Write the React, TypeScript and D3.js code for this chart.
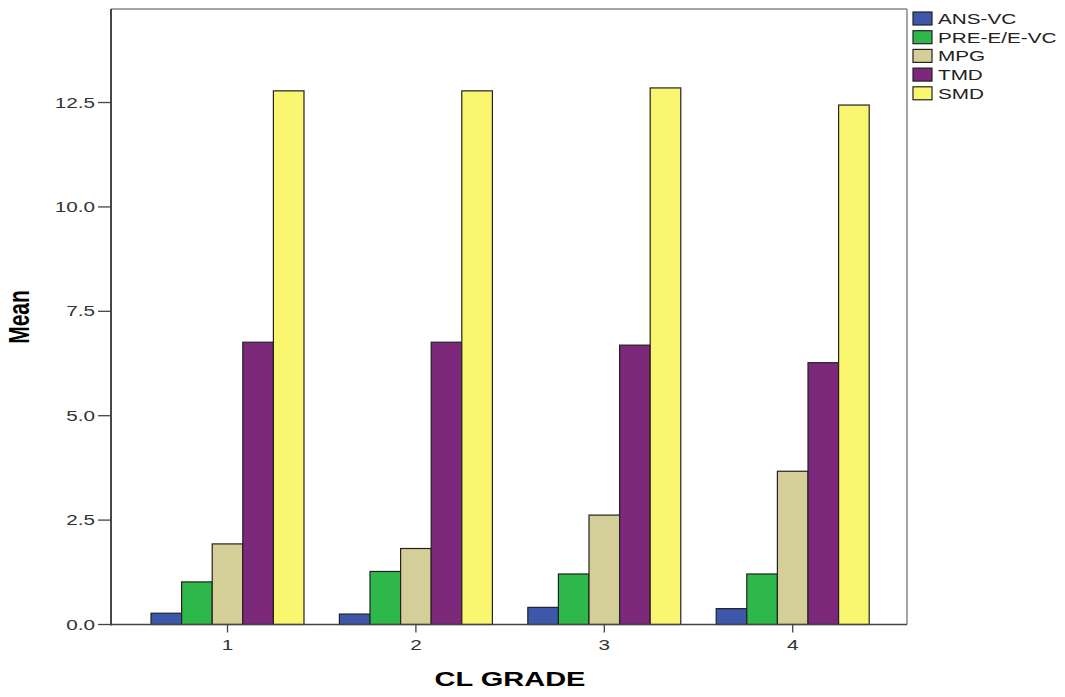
import React from 'react';
import * as d3 from 'd3';

const grades = ['1', '2', '3', '4'];
const seriesNames = ['ANS-VC', 'PRE-E/E-VC', 'MPG', 'TMD', 'SMD'];
const seriesColors = ['#3d58aa', '#2fb84a', '#d4cf98', '#7c287b', '#fbf670'];
const ansVc = [0.27, 0.25, 0.41, 0.38];
const preEVc = [1.02, 1.27, 1.21, 1.21];
const mpg = [1.93, 1.82, 2.62, 3.67];
const tmd = [6.76, 6.76, 6.69, 6.27];
const smd = [12.78, 12.78, 12.85, 12.44];
const yTicks = [0, 2.5, 5, 7.5, 10, 12.5];

const values = [ansVc, preEVc, mpg, tmd, smd];

const W = 1065;
const H = 697;
const frame = { left: 111, right: 907, top: 9, bottom: 624.5 };
const SX = 1.38; // the source image is stretched horizontally

const App = () => {
    const y = d3.scaleLinear().domain([0, 14.74]).range([frame.bottom, frame.top]);
    const x0 = d3.scaleBand<string>()
        .domain(grades)
        .range([133.3, 886.9])
        .paddingInner(0.188)
        .paddingOuter(0.094);
    const x1 = d3.scaleBand<number>()
        .domain(d3.range(seriesNames.length))
        .range([0, x0.bandwidth()]);

    const fmt = d3.format('.1f');

    return (
        <svg width={W} height={H} style={{ position: 'absolute', left: 0, top: 0, background: '#fff' }}
            fontFamily="'Liberation Sans', Arial, sans-serif">
            {/* bars */}
            {grades.map((g, gi) => (
                <g key={g} transform={`translate(${x0(g)},0)`}>
                    {values.map((s, si) => (
                        <rect key={si}
                            x={x1(si)}
                            y={y(s[gi])}
                            width={x1.bandwidth()}
                            height={y(0) - y(s[gi])}
                            fill={seriesColors[si]}
                            stroke="#222"
                            strokeWidth={1.2} />
                    ))}
                </g>
            ))}

            {/* frame */}
            <line x1={frame.left} x2={frame.right} y1={frame.top} y2={frame.top} stroke="#888" strokeWidth={1.5} />
            <line x1={frame.right} x2={frame.right} y1={frame.top} y2={frame.bottom} stroke="#888" strokeWidth={1.5} />
            <line x1={frame.left} x2={frame.left} y1={frame.top} y2={frame.bottom + 1} stroke="#333" strokeWidth={1.8} />
            <line x1={frame.left} x2={frame.right} y1={frame.bottom} y2={frame.bottom} stroke="#444" strokeWidth={1.6} />

            {/* y axis */}
            {yTicks.map(t => (
                <g key={t} transform={`translate(0,${y(t)})`}>
                    <line x1={98} x2={frame.left} stroke="#444" strokeWidth={1.3} />
                    <text transform={`translate(95,5) scale(${SX},1)`} textAnchor="end" fontSize={15} fill="#333">
                        {fmt(t)}
                    </text>
                </g>
            ))}
            <text transform={`translate(29,317) scale(${SX},1) rotate(-90)`} textAnchor="middle"
                fontSize={21} fontWeight="bold" fill="#000">Mean</text>

            {/* x axis */}
            {grades.map(g => {
                const cx = (x0(g) ?? 0) + x0.bandwidth() / 2;
                return (
                    <g key={g} transform={`translate(${cx},0)`}>
                        <line y1={frame.bottom} y2={frame.bottom + 8} stroke="#444" strokeWidth={1.3} />
                        <text transform={`translate(0,650) scale(${SX},1)`} textAnchor="middle" fontSize={15} fill="#333">{g}</text>
                    </g>
                );
            })}
            <text transform={`translate(${(frame.left + frame.right) / 2 + 1},686) scale(${SX},1)`} textAnchor="middle"
                fontSize={21} fontWeight="bold" fill="#000">CL GRADE</text>

            {/* legend */}
            {seriesNames.map((n, i) => (
                <g key={n} transform={`translate(913,${12 + i * 18.7})`}>
                    <rect width={19} height={13} fill={seriesColors[i]} stroke="#222" strokeWidth={1.2} />
                    <text transform={`translate(25,12) scale(${SX},1)`} fontSize={15} fill="#222">{n}</text>
                </g>
            ))}
        </svg>
    );
};

export default App;
